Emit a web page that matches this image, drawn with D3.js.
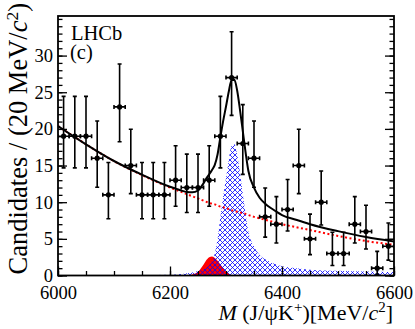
<!DOCTYPE html>
<html>
<head>
<meta charset="utf-8">
<script src="https://cdn.jsdelivr.net/npm/d3@7"></script>
<style>
	body { margin: 0; background: #fff; }
	svg text { font-family: "Liberation Serif", "Times New Roman", serif; fill: #000; }
</style>
</head>
<body>
<svg id="chart" width="415" height="329"></svg>
<script>

// data points, 20 MeV bins
var binCentres = [6010, 6030, 6050, 6070, 6090, 6110, 6130, 6150, 6170, 6190,
	6210, 6230, 6250, 6270, 6290, 6310, 6330, 6350, 6370, 6390,
	6410, 6430, 6450, 6470, 6490, 6510, 6530, 6550, 6570, 6590];
var candidates = [19, 19, 19, 16, 11, 23, 15, 11, 11, 11,
	13, 12, 12, 13, 19, 27, 18, 16, 8, 7,
	9, 15, 5, 10, 3, 3, 7, 6, 1, 4];

// fit components
var massGrid = [6000, 6050, 6100, 6150, 6200, 6210, 6220, 6230, 6240, 6250,
	6260, 6265, 6270, 6275, 6280, 6285, 6290, 6295, 6300, 6305,
	6310, 6315, 6320, 6325, 6330, 6335, 6340, 6350, 6360, 6370,
	6380, 6390, 6400, 6425, 6450, 6500, 6550, 6600];
var bkgCurve = [20.4, 17.9, 15.6, 13.7, 12.0, 11.7, 11.4, 11.1, 10.8, 10.5,
	10.2, 10.05, 9.9, 9.8, 9.7, 9.55, 9.4, 9.3, 9.2, 9.05,
	8.9, 8.8, 8.7, 8.6, 8.5, 8.4, 8.25, 8.0, 7.8, 7.6,
	7.4, 7.2, 7.0, 6.6, 6.2, 5.4, 4.7, 4.2];
var sigCurve = [0, 0, 0.02, 0.05, 0.1, 0.15, 0.2, 0.3, 0.4, 0.6,
	0.9, 1.1, 1.4, 2.0, 3.0, 5.0, 8.0, 10.8, 13.3, 15.8,
	17.7, 17.9, 16.5, 14.0, 11.2, 8.4, 6.0, 4.0, 2.8, 2.2,
	1.8, 1.5, 1.25, 1.0, 0.8, 0.65, 0.55, 0.45];
var peakCurve = [0, 0, 0, 0, 0, 0, 0, 0, 0.15, 0.5,
	1.5, 2.1, 2.5, 2.6, 2.4, 2.0, 1.5, 1.0, 0.55, 0.25,
	0.08, 0, 0, 0, 0, 0, 0, 0, 0, 0,
	0, 0, 0, 0, 0, 0, 0, 0];

var xTicks = [6000, 6200, 6400, 6600];
var yTicks = [0, 5, 10, 15, 20, 25, 30];

var svg = d3.select("#chart"),
	frame = {left: 58, right: 394, top: 16, bottom: 275.5};

var x = d3.scaleLinear()
	.domain([6000, 6600])
	.range([frame.left, frame.right]);
var y = d3.scaleLinear()
	.domain([0, 35.4])
	.range([frame.bottom, frame.top]);

var defs = svg.append("defs");
defs.append("clipPath")
	.attr("id", "plotclip")
	.append("rect")
	.attr("x", frame.left)
	.attr("y", frame.top)
	.attr("width", frame.right - frame.left)
	.attr("height", frame.bottom - frame.top);

defs.append("pattern")
	.attr("id", "hatch")
	.attr("patternUnits", "userSpaceOnUse")
	.attr("width", 5)
	.attr("height", 5)
	.append("path")
	.attr("d", "M0,0L5,5M5,0L0,5")
	.attr("stroke", "#0000ff")
	.attr("stroke-width", 0.8)
	.attr("fill", "none");

var grid = massGrid.map(function(m, i) {
	return {
		m: m,
		bkg: bkgCurve[i],
		sig: sigCurve[i],
		peak: peakCurve[i],
		total: bkgCurve[i] + sigCurve[i] + peakCurve[i]
	};
});

var plotarea = svg.append("g").attr("clip-path", "url(#plotclip)");

// components
plotarea.append("path")
	.datum(grid)
	.attr("fill", "#ff0000")
	.attr("d", d3.area()
		.x(function(d) { return x(d.m); })
		.y0(y(0))
		.y1(function(d) { return y(d.peak); })
		.curve(d3.curveMonotoneX));

plotarea.append("path")
	.datum(grid)
	.attr("fill", "url(#hatch)")
	.attr("d", d3.area()
		.x(function(d) { return x(d.m); })
		.y0(y(0))
		.y1(function(d) { return y(d.sig); })
		.curve(d3.curveMonotoneX));

plotarea.append("path")
	.datum(grid)
	.attr("fill", "none")
	.attr("stroke", "#ff0000")
	.attr("stroke-width", 2)
	.attr("stroke-dasharray", "2,2.5")
	.attr("d", d3.line()
		.x(function(d) { return x(d.m); })
		.y(function(d) { return y(d.bkg); })
		.curve(d3.curveMonotoneX));

plotarea.append("path")
	.datum(grid)
	.attr("fill", "none")
	.attr("stroke", "#000")
	.attr("stroke-width", 2)
	.attr("d", d3.line()
		.x(function(d) { return x(d.m); })
		.y(function(d) { return y(d.total); })
		.curve(d3.curveMonotoneX));

// data with poisson errors
var points = binCentres.map(function(m, i) {
	var n = candidates[i];
	return {m: m, n: n, lo: poissonLow(n), hi: poissonHigh(n)};
});

var pts = plotarea.selectAll(".pt")
	.data(points)
	.enter()
	.append("g")
	.attr("class", "pt")
	.attr("stroke", "#000")
	.attr("stroke-width", 1.6);

pts.append("line")
	.attr("x1", function(d) { return x(d.m); })
	.attr("x2", function(d) { return x(d.m); })
	.attr("y1", function(d) { return y(d.lo); })
	.attr("y2", function(d) { return y(d.hi); });
pts.append("line")
	.attr("x1", function(d) { return x(d.m - 10); })
	.attr("x2", function(d) { return x(d.m + 10); })
	.attr("y1", function(d) { return y(d.n); })
	.attr("y2", function(d) { return y(d.n); });
// end caps
pts.append("path")
	.attr("fill", "none")
	.attr("d", function(d) {
		var cx = x(d.m), cy = y(d.n), xl = x(d.m - 10), xr = x(d.m + 10);
		return "M" + (cx - 2) + "," + y(d.hi) + "H" + (cx + 2) +
			"M" + (cx - 2) + "," + y(d.lo) + "H" + (cx + 2) +
			"M" + xl + "," + (cy - 2) + "V" + (cy + 2) +
			"M" + xr + "," + (cy - 2) + "V" + (cy + 2);
	});
pts.append("circle")
	.attr("cx", function(d) { return x(d.m); })
	.attr("cy", function(d) { return y(d.n); })
	.attr("r", 2.6)
	.attr("stroke", "none")
	.attr("fill", "#000");

// axes, ticks pointing inwards
function minorValues(lo, hi, step) {
	var v = [];
	for (var t = lo; t <= hi + 1e-9; t += step) v.push(t);
	return v;
}

var axes = svg.append("g");

axes.append("g")
	.attr("transform", "translate(0," + frame.bottom + ")")
	.call(d3.axisBottom(x).tickValues(minorValues(6000, 6600, 50)).tickSize(-4.5).tickFormat(""));
axes.append("g")
	.attr("transform", "translate(0," + frame.bottom + ")")
	.call(d3.axisBottom(x).tickValues(xTicks).tickSize(-9).tickPadding(10).tickFormat(d3.format("d")));

axes.append("g")
	.attr("transform", "translate(" + frame.left + ",0)")
	.call(d3.axisLeft(y).tickValues(minorValues(0, 35, 1)).tickSize(-4.5).tickFormat(""));
axes.append("g")
	.attr("transform", "translate(" + frame.left + ",0)")
	.call(d3.axisLeft(y).tickValues(yTicks).tickSize(-9).tickPadding(5));

axes.append("g")
	.attr("transform", "translate(" + frame.right + ",0)")
	.call(d3.axisRight(y).tickValues(minorValues(0, 35, 1)).tickSize(-4.5).tickFormat(""));
axes.append("g")
	.attr("transform", "translate(" + frame.right + ",0)")
	.call(d3.axisRight(y).tickValues(yTicks).tickSize(-9).tickFormat(""));

axes.selectAll(".domain").remove();
axes.selectAll("g").attr("font-family", "Liberation Serif, serif");
axes.selectAll(".tick line").attr("stroke", "#000").attr("stroke-width", 1.3);
axes.selectAll(".tick text")
	.attr("font-size", "18.5px")
	.attr("font-family", "Liberation Serif, serif")
	.attr("fill", "#000");

svg.append("rect")
	.attr("x", frame.left)
	.attr("y", frame.top)
	.attr("width", frame.right - frame.left)
	.attr("height", frame.bottom - frame.top)
	.attr("fill", "none")
	.attr("stroke", "#000")
	.attr("stroke-width", 1.8);

// labels
svg.append("text")
	.attr("x", 71)
	.attr("y", 40)
	.attr("font-size", "20.5px")
	.text("LHCb");
svg.append("text")
	.attr("x", 70)
	.attr("y", 59)
	.attr("font-size", "20.5px")
	.text("(c)");

var ylab = svg.append("text")
	.attr("transform", "translate(27,3) rotate(-90)")
	.attr("text-anchor", "end")
	.attr("font-size", "26.5px");
ylab.append("tspan").text("Candidates / (20 MeV/");
ylab.append("tspan").attr("font-style", "italic").text("c");
ylab.append("tspan").attr("font-size", "17.5px").attr("dy", -9.5).text("2");
ylab.append("tspan").attr("dy", 9.5).text(")");

var xlab = svg.append("text")
	.attr("x", 393)
	.attr("y", 319.5)
	.attr("text-anchor", "end")
	.attr("font-size", "22px");
xlab.append("tspan").attr("font-style", "italic").text("M");
xlab.append("tspan").text(" (J/\u03c8K");
xlab.append("tspan").attr("font-size", "15px").attr("dy", -8).text("+");
xlab.append("tspan").attr("dy", 8).text(")[MeV/");
xlab.append("tspan").attr("font-style", "italic").text("c");
xlab.append("tspan").attr("font-size", "15px").attr("dy", -8).text("2");
xlab.append("tspan").attr("dy", 8).text("]");

function poissonLow(n) {
	if (n === 0) return 0;
	var a = 1 - 1 / (9 * n) - 1 / (3 * Math.sqrt(n));
	return n * a * a * a;
}

function poissonHigh(n) {
	var m = n + 1,
		a = 1 - 1 / (9 * m) + 1 / (3 * Math.sqrt(m));
	return m * a * a * a;
}

</script>
</body>
</html>
